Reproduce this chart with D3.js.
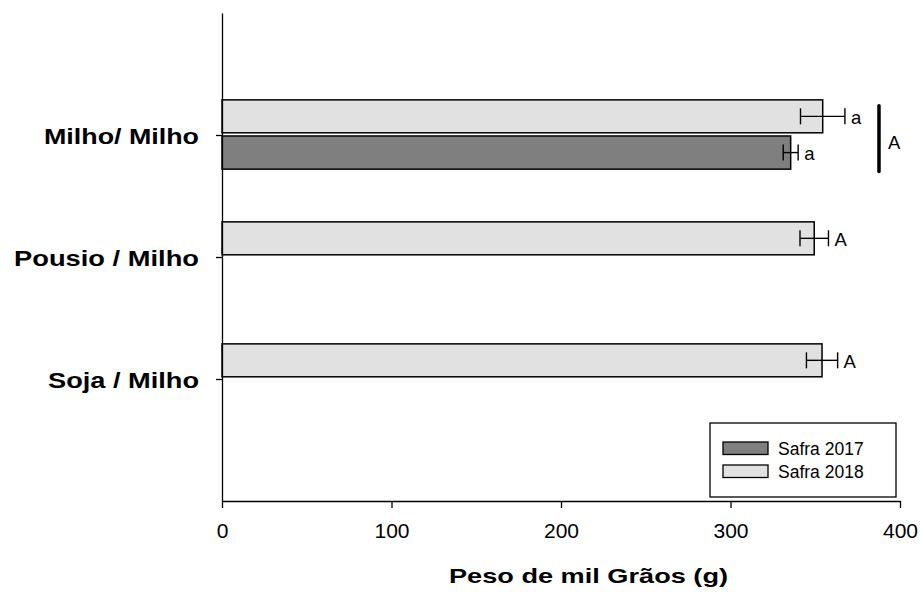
<!DOCTYPE html>
<html>
<head>
<meta charset="utf-8">
<script src="https://cdn.jsdelivr.net/npm/d3@7"></script>
<style>
  html, body { margin: 0; padding: 0; background: #fff; }
  svg { display: block; }
</style>
</head>
<body>
<svg id="chart" width="921" height="592"></svg>
<script>
// Weight of a thousand grains per crop sequence, two harvests
const categories = ["Milho/ Milho", "Pousio / Milho", "Soja / Milho"];
const categoryPos = [3, 2, 1];
const series = ["Safra 2017", "Safra 2018"];
const values2017 = [335.5, null, null];
const errors2017 = [4.4, null, null];
const letters2017 = ["a", null, null];
const values2018 = [354.4, 349.4, 354.0];
const errors2018 = [13.1, 8.4, 9.2];
const letters2018 = ["a", "A", "A"];
const xTicks = [0, 100, 200, 300, 400];
const groupLetter = { category: "Milho/ Milho", x: 387.6, label: "A" };
const colors = { "Safra 2017": "#7f7f7f", "Safra 2018": "#e1e1e1" };

// wide-set lettering: rendered widths of the bold labels
const categoryLabelWidth = [155, 185, 151];
const titleWidth = 279;

const svg = d3.select("#chart");
const x = d3.scaleLinear().domain([0, 400]).range([222, 900]);
const y = d3.scaleLinear().domain([0, 4]).range([501, 13]);

const font = "'Liberation Sans', Arial, sans-serif";

// rows: 2018 sits above the category tick, 2017 below it
const rows = [];
categories.forEach((c, i) => {
  if (values2018[i] != null) rows.push({ cat: c, pos: categoryPos[i], s: "Safra 2018", v: values2018[i], e: errors2018[i], l: letters2018[i], top: 0.288, bot: 0.018 });
  if (values2017[i] != null) rows.push({ cat: c, pos: categoryPos[i], s: "Safra 2017", v: values2017[i], e: errors2017[i], l: letters2017[i], top: -0.008, bot: -0.28 });
});

const g = svg.append("g");

g.selectAll("rect.bar").data(rows).enter().append("rect")
  .attr("class", "bar")
  .attr("x", x(0))
  .attr("y", d => y(d.pos + d.top))
  .attr("width", d => x(d.v) - x(0))
  .attr("height", d => y(d.pos + d.bot) - y(d.pos + d.top))
  .attr("fill", d => colors[d.s])
  .attr("stroke", "#000")
  .attr("stroke-width", 1.5);

// error bars
const eb = g.selectAll("g.err").data(rows).enter().append("g")
  .attr("class", "err")
  .attr("stroke", "#000").attr("stroke-width", 1.4);
const cy = d => (y(d.pos + d.top) + y(d.pos + d.bot)) / 2;
eb.append("line").attr("x1", d => x(d.v - d.e)).attr("x2", d => x(d.v + d.e)).attr("y1", cy).attr("y2", cy);
eb.append("line").attr("x1", d => x(d.v - d.e)).attr("x2", d => x(d.v - d.e)).attr("y1", d => cy(d) - 8).attr("y2", d => cy(d) + 8);
eb.append("line").attr("x1", d => x(d.v + d.e)).attr("x2", d => x(d.v + d.e)).attr("y1", d => cy(d) - 8).attr("y2", d => cy(d) + 8);

g.selectAll("text.letter").data(rows).enter().append("text")
  .attr("class", "letter")
  .attr("x", d => x(d.v + d.e) + 6)
  .attr("y", d => cy(d) + 7.5)
  .attr("font-family", font)
  .attr("font-size", 18.5)
  .text(d => d.l);

// grouping bar for the two harvests
const gp = categoryPos[categories.indexOf(groupLetter.category)];
g.append("line")
  .attr("x1", x(groupLetter.x)).attr("x2", x(groupLetter.x))
  .attr("y1", y(gp + 0.24)).attr("y2", y(gp - 0.3))
  .attr("stroke", "#000").attr("stroke-width", 3.5).attr("stroke-linecap", "round");
g.append("text")
  .attr("x", x(groupLetter.x) + 9)
  .attr("y", y(gp) + 14)
  .attr("font-family", font).attr("font-size", 18.5)
  .text(groupLetter.label);

// x axis
const xAxis = d3.axisBottom(x).tickValues(xTicks).tickSize(7).tickSizeOuter(0).tickPadding(15);
const xg = svg.append("g").attr("transform", `translate(0,${y(0)})`).call(xAxis);
xg.select(".domain").attr("stroke", "#000").attr("stroke-width", 1.3);
xg.selectAll(".tick line").attr("stroke", "#000").attr("stroke-width", 1.3);
xg.selectAll(".tick text").attr("font-family", font).attr("font-size", 21).attr("fill", "#000");

// y axis with category labels
const yAxis = d3.axisLeft(y).tickValues(categoryPos).tickFormat((d, i) => categories[i]).tickSize(6).tickSizeOuter(0).tickPadding(17);
const yg = svg.append("g").attr("transform", `translate(${x(0)},0)`).call(yAxis);
yg.select(".domain").attr("stroke", "#000").attr("stroke-width", 1.3);
yg.selectAll(".tick line").attr("stroke", "#000").attr("stroke-width", 1.3);
yg.selectAll(".tick text")
  .attr("font-family", font).attr("font-size", 22).attr("font-weight", "bold").attr("fill", "#000")
  .attr("dy", "8px")
  .attr("textLength", (d, i) => categoryLabelWidth[i])
  .attr("lengthAdjust", "spacingAndGlyphs");

// axis title
svg.append("text")
  .attr("x", 588.5).attr("y", 583)
  .attr("text-anchor", "middle")
  .attr("font-family", font).attr("font-size", 21).attr("font-weight", "bold")
  .attr("textLength", titleWidth).attr("lengthAdjust", "spacingAndGlyphs")
  .text("Peso de mil Grãos (g)");

// legend
const lg = svg.append("g");
lg.append("rect").attr("x", 710).attr("y", 423).attr("width", 186).attr("height", 74)
  .attr("fill", "#fff").attr("stroke", "#000").attr("stroke-width", 1.3);
series.forEach((s, i) => {
  const yy = 442 + i * 23;
  lg.append("rect").attr("x", 723).attr("y", yy).attr("width", 45).attr("height", 12.5)
    .attr("fill", colors[s]).attr("stroke", "#000").attr("stroke-width", 1.3);
  lg.append("text").attr("x", 778).attr("y", yy + 13).attr("font-family", font).attr("font-size", 17.5).text(s);
});
</script>
</body>
</html>
